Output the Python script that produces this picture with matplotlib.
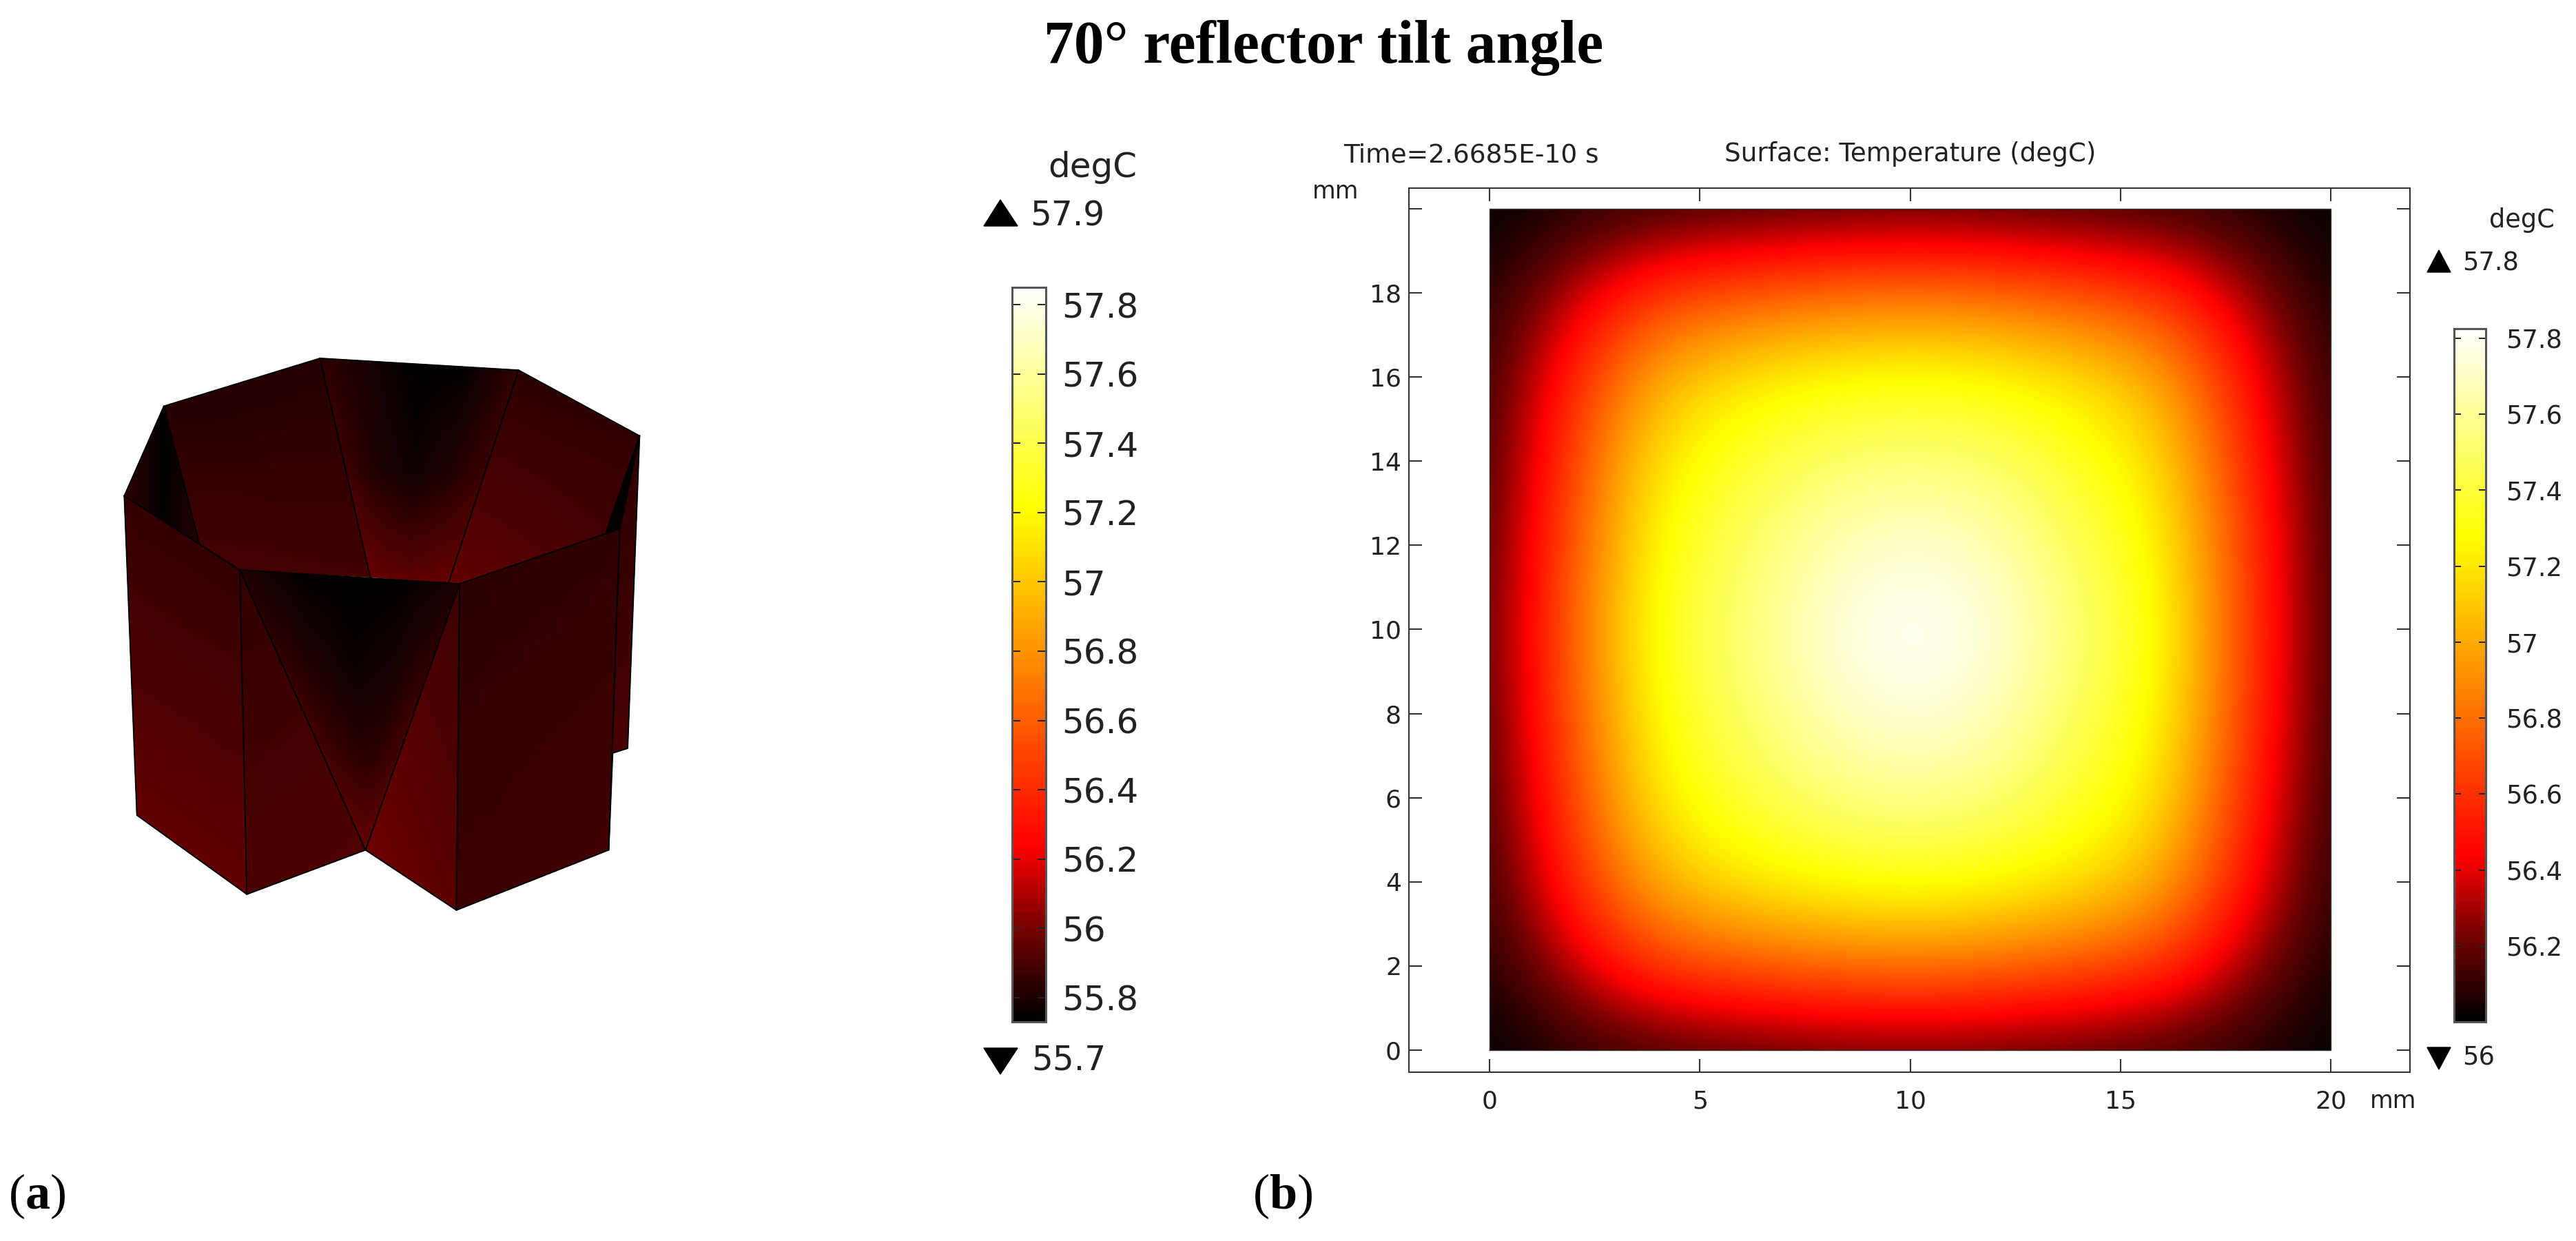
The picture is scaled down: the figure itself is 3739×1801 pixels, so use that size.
import numpy as np
import matplotlib
matplotlib.use("Agg")
import matplotlib.pyplot as plt
from matplotlib.colors import LinearSegmentedColormap
from matplotlib.patches import Rectangle

W, H = 3739, 1801

# -----------------------------
# Colour table (fraction of range, colour)
# -----------------------------
cmap_stops = [0.0, 0.12, 0.24, 0.70, 1.0]
cmap_colors = ["#000000", "#700000", "#ff0000", "#ffff00", "#ffffff"]

# -----------------------------
# Panel (b): temperature, every 2 mm, top row is y = 20
# -----------------------------
field_t = [
    [56.00, 56.06, 56.10, 56.12, 56.14, 56.15, 56.14, 56.12, 56.10, 56.06, 56.00],
    [56.06, 56.34, 56.62, 56.70, 56.77, 56.80, 56.77, 56.69, 56.60, 56.30, 56.04],
    [56.10, 56.56, 57.02, 57.20, 57.28, 57.31, 57.28, 57.18, 57.00, 56.48, 56.07],
    [56.12, 56.66, 57.22, 57.38, 57.50, 57.54, 57.50, 57.36, 57.17, 56.56, 56.09],
    [56.14, 56.73, 57.30, 57.48, 57.66, 57.75, 57.67, 57.46, 57.26, 56.62, 56.10],
    [56.15, 56.77, 57.35, 57.52, 57.75, 57.82, 57.76, 57.52, 57.30, 56.64, 56.10],
    [56.14, 56.74, 57.31, 57.49, 57.68, 57.77, 57.69, 57.47, 57.27, 56.62, 56.10],
    [56.12, 56.67, 57.24, 57.40, 57.53, 57.58, 57.53, 57.38, 57.19, 56.56, 56.09],
    [56.10, 56.57, 57.04, 57.22, 57.30, 57.34, 57.30, 57.20, 57.02, 56.48, 56.07],
    [56.06, 56.35, 56.64, 56.72, 56.79, 56.82, 56.79, 56.71, 56.62, 56.30, 56.04],
    [56.00, 56.08, 56.12, 56.15, 56.17, 56.18, 56.17, 56.15, 56.12, 56.07, 56.00],
]

x_ticks = [0, 5, 10, 15, 20]
y_ticks = [0, 2, 4, 6, 8, 10, 12, 14, 16, 18, 20]
y_tick_labels = ["0", "2", "4", "6", "8", "10", "12", "14", "16", "18", ""]

# -----------------------------
# Colour bars
# -----------------------------
bar_a_range = [55.73, 57.85]
bar_a_ticks = [55.8, 56, 56.2, 56.4, 56.6, 56.8, 57, 57.2, 57.4, 57.6, 57.8]
bar_a_labels = ["55.8", "56", "56.2", "56.4", "56.6", "56.8", "57", "57.2", "57.4", "57.6", "57.8"]
bar_b_range = [56.0, 57.825]
bar_b_ticks = [56.2, 56.4, 56.6, 56.8, 57, 57.2, 57.4, 57.6, 57.8]
bar_b_labels = ["56.2", "56.4", "56.6", "56.8", "57", "57.2", "57.4", "57.6", "57.8"]

# -----------------------------
# Panel (a): corners of the octagonal walls, in image pixels
# -----------------------------
A = (180.4, 719.8); B = (237.8, 589.5); C = (464.5, 520.0); D = (752.6, 537.2)
E = (928.3, 632.5); F = (899.6, 767.4); G = (667.1, 847.2); H_ = (348.0, 827.1)
I = (289.4, 788.7); J = (537.4, 837.5); K = (651.0, 846.1); L = (879.5, 772.6)
M = (198.7, 1183.0); N = (358.3, 1297.8); O = (530.5, 1233.5); Q = (662.5, 1320.8)
R = (883.5, 1233.5); S = (889.3, 1092.9); T = (911.0, 1086.0)

# each wall: upper left, upper right, lower right, lower left, temperatures
walls = [
    (F, E, T, S, [[55.84, 55.84], [55.90, 55.90]]),
    (B, B, I, A, [[55.73, 55.73, 55.73], [55.84, 55.74, 55.82]]),
    (B, C, J, I, [[55.82, 55.82], [55.88, 55.88]]),
    (I, J, J, H_, [[55.88, 55.88], [55.88, 55.88]]),
    (C, D, K, J, [[55.84, 55.78, 55.73, 55.75, 55.85],
                  [55.87, 55.80, 55.77, 55.81, 55.87],
                  [55.97, 55.96, 55.95, 55.96, 55.97]]),
    (D, E, L, K, [[55.83, 55.84], [55.96, 55.88]]),
    (K, L, F, G, [[55.96, 55.88], [55.96, 55.88]]),
    (L, E, F, F, [[55.74, 55.74], [55.74, 55.74]]),
    (A, H_, N, M, [[55.85, 55.85], [55.96, 55.96]]),
    (H_, H_, N, O, [[55.84, 55.84], [55.92, 55.91]]),
    (H_, G, O, O, [[55.81, 55.75, 55.73, 55.74, 55.79],
                   [55.85, 55.80, 55.76, 55.78, 55.85],
                   [55.89, 55.86, 55.83, 55.84, 55.89],
                   [55.97, 55.97, 55.97, 55.97, 55.97]]),
    (G, G, Q, O, [[55.87, 55.87], [55.98, 55.94]]),
    (G, F, R, Q, [[55.83, 55.84], [55.87, 55.88]]),
]
edges = [
    [A, B, C, D, E, F, G, H_, A], [A, M, N, O, Q, R, S, T, E],
    [B, I], [C, J], [D, K], [E, L], [H_, N], [H_, O], [G, O], [G, Q], [F, R],
]

# -----------------------------
# Helpers
# -----------------------------
plt.rcParams.update({
    "font.family": "DejaVu Sans",
    "mathtext.fontset": "custom",
    "mathtext.bf": "Liberation Serif:bold",
    "mathtext.rm": "Liberation Serif",
})

cmap = LinearSegmentedColormap.from_list("thermal", list(zip(cmap_stops, cmap_colors)))

fig = plt.figure(figsize=(W / 100, H / 100), dpi=100, facecolor="white")


def axes_px(left, top, right, bottom):
    return fig.add_axes([left / W, 1 - bottom / H, (right - left) / W, (bottom - top) / H])


def draw_wall(ax, ul, ur, lr, ll, temps):
    temps = np.array(temps)
    s = np.linspace(0, 1, temps.shape[1])[None, :]
    t = np.linspace(0, 1, temps.shape[0])[:, None]
    X = (1 - t) * ((1 - s) * ul[0] + s * ur[0]) + t * ((1 - s) * ll[0] + s * lr[0])
    Y = (1 - t) * ((1 - s) * ul[1] + s * ur[1]) + t * ((1 - s) * ll[1] + s * lr[1])
    ax.pcolormesh(X, Y, temps, shading="gouraud", cmap=cmap,
                  vmin=bar_a_range[0], vmax=bar_a_range[1])


def draw_bar(rect, value_range, ticks, labels, size, tick_len, pad):
    ax = axes_px(*rect)
    ramp = np.linspace(value_range[1], value_range[0], 256)[:, None]
    ax.imshow(ramp, cmap=cmap, aspect="auto", vmin=value_range[0], vmax=value_range[1],
              extent=[0, 1, value_range[0], value_range[1]])
    ax.set_xticks([])
    ax.set_yticks(ticks)
    ax.set_yticklabels(labels, ha="left")
    ax.tick_params(axis="y", direction="in", left=True, right=True, labelleft=False,
                   labelright=True, length=tick_len, width=1.4, color="#222222",
                   labelsize=size, labelcolor="#222222", pad=pad)
    for spine in ax.spines.values():
        spine.set_color("#555555")
        spine.set_linewidth(2.2)
    return ax


# -----------------------------
# Full-figure layer in pixels: panel (a) and loose texts
# -----------------------------
page = fig.add_axes([0, 0, 1, 1])
page.set_xlim(0, W)
page.set_ylim(H, 0)
page.axis("off")

for ul, ur, lr, ll, temps in walls:
    draw_wall(page, ul, ur, lr, ll, temps)
for path in edges:
    page.plot([p[0] for p in path], [p[1] for p in path], color="black", lw=1.4,
              solid_joinstyle="round")

page.text(1921, 70, "70° reflector tilt angle", family="Liberation Serif", weight="bold",
          fontsize=63, ha="center", va="center", color="black")
page.text(12, 1754, r"($\mathbf{a}$)", family="Liberation Serif", fontsize=52,
          ha="left", va="baseline", color="black")
page.text(1818, 1754, r"($\mathbf{b}$)", family="Liberation Serif", fontsize=52,
          ha="left", va="baseline", color="black")

page.text(1650, 243, "degC", fontsize=36, ha="right", va="center", color="#222222")
page.text(1495, 313, "57.9", fontsize=35, ha="left", va="center", color="#222222")
page.text(1497, 1538, "55.7", fontsize=35, ha="left", va="center", color="#222222")
page.fill([1428, 1477, 1452], [328, 328, 290], color="black")
page.fill([1428, 1477, 1452], [1521, 1521, 1559], color="black")

page.text(3708, 319, "degC", fontsize=26.5, ha="right", va="center", color="#222222")
page.text(3574, 382, "57.8", fontsize=26.5, ha="left", va="center", color="#222222")
page.text(3574, 1535, "56", fontsize=26.5, ha="left", va="center", color="#222222")
page.fill([3523, 3557, 3540], [395, 395, 363], color="black")
page.fill([3523, 3557, 3540], [1520, 1520, 1552], color="black")

page.text(1950, 225, "Time=2.6685E-10 s", fontsize=27, ha="left", va="center", color="#222222")
page.text(2773, 224, "Surface: Temperature (degC)", fontsize=26.8, ha="center", va="center",
          color="#222222")
page.text(1905, 278, "mm", fontsize=25, ha="left", va="center", color="#222222")
page.text(3440, 1598, "mm", fontsize=25, ha="left", va="center", color="#222222")

# -----------------------------
# Panel (b): surface plot
# -----------------------------
ax = axes_px(2045, 273, 3498, 1556)
im = ax.imshow(field_t, cmap=cmap, vmin=bar_b_range[0], vmax=bar_b_range[1], aspect="auto",
               interpolation="bicubic", extent=[-1, 21, -1, 21], origin="upper")
im.set_clip_path(Rectangle((0, 0), 20, 20, transform=ax.transData))
ax.plot([0, 20, 20, 0, 0], [0, 0, 20, 20, 0], color="#333333", lw=1.0)
ax.set_xlim(-1.916, 21.88)
ax.set_ylim(-0.524, 20.49)
ax.set_xticks(x_ticks)
ax.set_yticks(y_ticks)
ax.set_yticklabels(y_tick_labels)
ax.tick_params(direction="in", top=True, right=True, length=14, width=1.5, color="#333333",
               labelsize=26, labelcolor="#222222")
ax.tick_params(axis="x", pad=18)
ax.tick_params(axis="y", pad=8)
for spine in ax.spines.values():
    spine.set_color("#333333")
    spine.set_linewidth(1.5)

# -----------------------------
# Colour bars
# -----------------------------
draw_bar((1469, 417, 1518, 1483), bar_a_range, bar_a_ticks, bar_a_labels, 36, 8.5, 16.5)
draw_bar((3562, 477, 3608, 1483), bar_b_range, bar_b_ticks, bar_b_labels, 26.5, 7.5, 21)

fig.savefig("out.png", dpi=100)
